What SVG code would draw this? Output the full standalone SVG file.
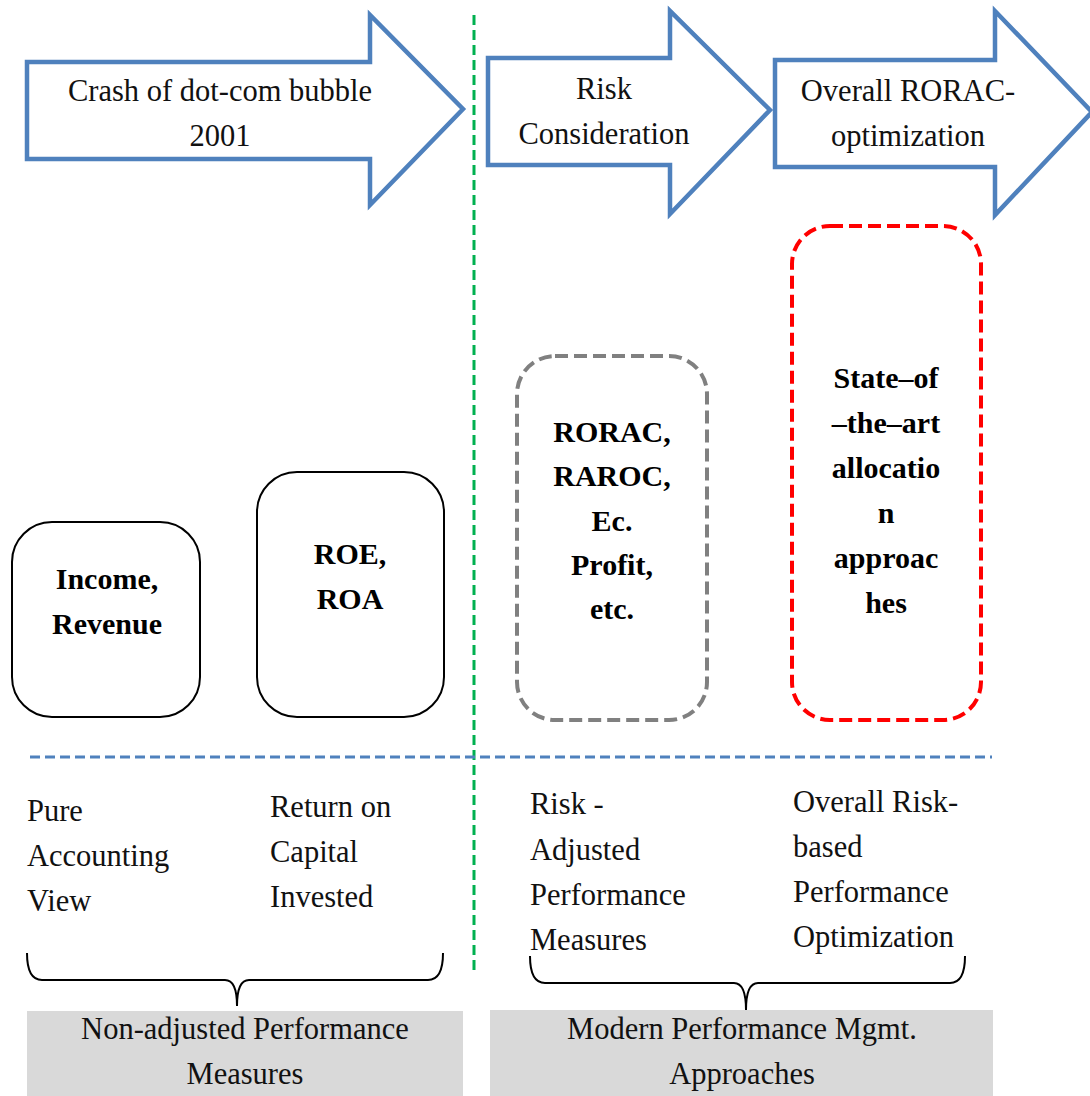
<svg xmlns="http://www.w3.org/2000/svg" width="1090" height="1096" viewBox="0 0 1090 1096">
<style>
.arrow{fill:#fff;stroke:#4f81bd;stroke-width:4.5;stroke-linejoin:miter}
.t{font-family:"Liberation Serif",serif;font-size:30.5px;fill:#111}
.tc{text-anchor:middle}
.b{font-family:"Liberation Serif",serif;font-size:30px;font-weight:bold;fill:#000;text-anchor:middle}
.box{fill:#fff;stroke:#000;stroke-width:2}
.brace{fill:none;stroke:#000;stroke-width:2}
.lbl{fill:#d9d9d9}
</style>
<rect width="1090" height="1096" fill="#fff"/>
<g id="connectors">
<line x1="474" y1="15" x2="474" y2="975" stroke="#00b050" stroke-width="3" stroke-dasharray="10,5"/>
<line x1="30" y1="757" x2="992" y2="757" stroke="#4f81bd" stroke-width="3" stroke-dasharray="10,5"/>
<path class="brace" d="M27,953 Q27,980 42,980 L225,980 Q237,980 237,1006 Q237,980 249,980 L428,980 Q443,980 443,953"/>
<path class="brace" d="M530,956 Q530,983 545,983 L734,983 Q746,983 746,1010 Q746,983 758,983 L950,983 Q965,983 965,956"/>
</g>
<g id="arrow1">
<polygon class="arrow" points="27,62 370,62 370,15 463,109 370,205 370,159 27,159"/>
<text class="t tc" x="220" y="101">Crash of dot-com bubble</text>
<text class="t tc" x="220" y="146">2001</text>
</g>
<g id="arrow2">
<polygon class="arrow" points="488,58 670,58 670,11 770,110 670,214 670,165 488,165"/>
<text class="t tc" x="604" y="99">Risk</text>
<text class="t tc" x="604" y="144">Consideration</text>
</g>
<g id="arrow3">
<polygon class="arrow" points="775,60 995,60 995,11 1092,112 995,215 995,167 775,167"/>
<text class="t tc" x="908" y="101">Overall RORAC-</text>
<text class="t tc" x="908" y="146">optimization</text>
</g>
<g id="income">
<rect class="box" x="12" y="522" width="188" height="195" rx="40"/>
<text class="b" x="107" y="589">Income,</text>
<text class="b" x="107" y="634">Revenue</text>
</g>
<g id="roe">
<rect class="box" x="257" y="472" width="187" height="245" rx="40"/>
<text class="b" x="350" y="564">ROE,</text>
<text class="b" x="350" y="609">ROA</text>
</g>
<g id="rorac">
<rect x="517" y="356" width="190" height="364" rx="38" fill="#fff" stroke="#808080" stroke-width="4" stroke-dasharray="13,6"/>
<text class="b" x="612" y="442">RORAC,</text>
<text class="b" x="612" y="486">RAROC,</text>
<text class="b" x="612" y="531">Ec.</text>
<text class="b" x="612" y="575">Profit,</text>
<text class="b" x="612" y="619">etc.</text>
</g>
<g id="state">
<rect x="792" y="226" width="189" height="494" rx="38" fill="#fff" stroke="#ff0000" stroke-width="4" stroke-dasharray="13,6"/>
<text class="b" x="886" y="388">State–of</text>
<text class="b" x="886" y="433">–the–art</text>
<text class="b" x="886" y="478">allocatio</text>
<text class="b" x="886" y="523">n</text>
<text class="b" x="886" y="568">approac</text>
<text class="b" x="886" y="613">hes</text>
</g>
<g id="pure">
<text class="t" x="27" y="821">Pure</text>
<text class="t" x="27" y="866">Accounting</text>
<text class="t" x="27" y="911">View</text>
</g>
<g id="return">
<text class="t" x="270" y="817">Return on</text>
<text class="t" x="270" y="862">Capital</text>
<text class="t" x="270" y="907">Invested</text>
</g>
<g id="riskadj">
<text class="t" x="530" y="814">Risk -</text>
<text class="t" x="530" y="860">Adjusted</text>
<text class="t" x="530" y="905">Performance</text>
<text class="t" x="530" y="950">Measures</text>
</g>
<g id="overall">
<text class="t" x="793" y="812">Overall Risk-</text>
<text class="t" x="793" y="857">based</text>
<text class="t" x="793" y="902">Performance</text>
<text class="t" x="793" y="947">Optimization</text>
</g>
<g id="nonadj">
<rect class="lbl" x="27" y="1011" width="436" height="85"/>
<text class="t tc" x="245" y="1039">Non-adjusted Performance</text>
<text class="t tc" x="245" y="1084">Measures</text>
</g>
<g id="modern">
<rect class="lbl" x="490" y="1010" width="503" height="86"/>
<text class="t tc" x="742" y="1039">Modern Performance Mgmt.</text>
<text class="t tc" x="742" y="1084">Approaches</text>
</g>
</svg>
